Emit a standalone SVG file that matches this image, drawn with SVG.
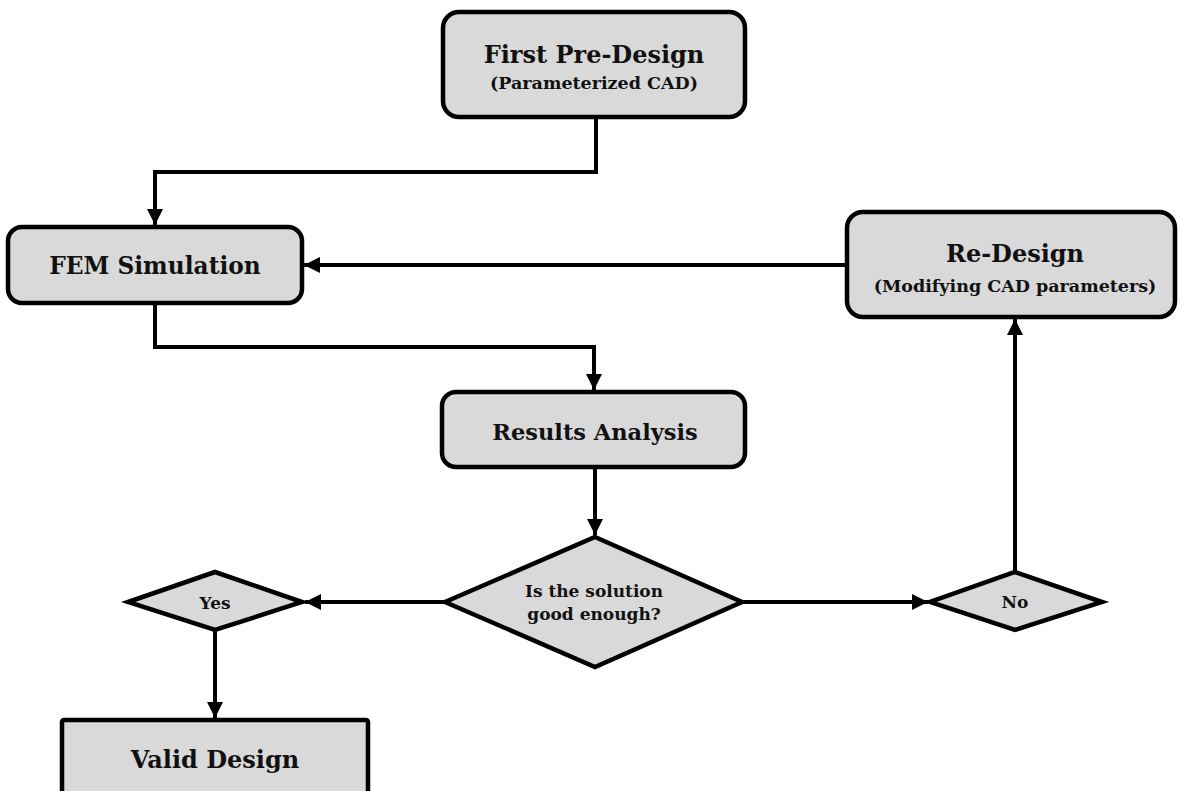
<svg xmlns="http://www.w3.org/2000/svg" width="1181" height="791" viewBox="0 0 1181 791">
<defs>
<marker id="arr" viewBox="0 0 10 10" refX="10" refY="5" markerWidth="4" markerHeight="4" orient="auto" markerUnits="strokeWidth">
<path d="M0,0 L10,5 L0,10 Z" fill="#000"/>
</marker>
<style>
.box{fill:#d9d9d9;stroke:#000;stroke-width:4.5}
.t{font-family:"DejaVu Serif","Liberation Serif",serif;font-weight:bold;fill:#111;text-anchor:middle}
.big{font-size:24px}
.sub{font-size:17.5px}
.sm{font-size:17px}
.c{fill:none;stroke:#000;stroke-width:4;marker-end:url(#arr)}
</style>
</defs>
<rect width="1181" height="791" fill="#fff"/>
<g id="connectors">
<path class="c" d="M596,117 V172 H155 V225"/>
<path class="c" d="M847,265 H304"/>
<path class="c" d="M155,303 V347 H594 V390"/>
<path class="c" d="M595,467 V535"/>
<path class="c" d="M445,602 H305"/>
<path class="c" d="M215,630 V718"/>
<path class="c" d="M742,602 H928"/>
<path class="c" d="M1015,572 V319"/>
</g>
<g id="first-pre-design">
<rect class="box" x="443" y="12" width="302" height="105" rx="16"/>
<text class="t big" x="594" y="63">First Pre-Design</text>
<text class="t sub" x="594" y="89">(Parameterized CAD)</text>
</g>
<g id="fem-simulation">
<rect class="box" x="8" y="227" width="294" height="76" rx="14"/>
<text class="t big" x="155" y="274" style="font-size:23.3px">FEM Simulation</text>
</g>
<g id="re-design">
<rect class="box" x="847" y="212" width="328" height="105" rx="16"/>
<text class="t big" x="1015" y="262">Re-Design</text>
<text class="t sub" x="1015" y="292">(Modifying CAD parameters)</text>
</g>
<g id="results-analysis">
<rect class="box" x="442" y="392" width="303" height="75" rx="14"/>
<text class="t big" x="595" y="440" style="font-size:22.5px">Results Analysis</text>
</g>
<g id="decision">
<polygon class="box" points="595,537 742,602 595,667 445,602"/>
<text class="t sm" x="594" y="597">Is the solution</text>
<text class="t sm" x="594" y="620">good enough?</text>
</g>
<g id="yes">
<polygon class="box" points="215,572 302,602 215,630 128,602"/>
<text class="t sm" x="215" y="609">Yes</text>
</g>
<g id="no">
<polygon class="box" points="1015,572 1102,602 1015,630 930,602"/>
<text class="t sm" x="1015" y="608">No</text>
</g>
<g id="valid-design">
<rect class="box" x="62" y="720" width="306" height="80" rx="2"/>
<text class="t big" x="215" y="768">Valid Design</text>
</g>
</svg>
